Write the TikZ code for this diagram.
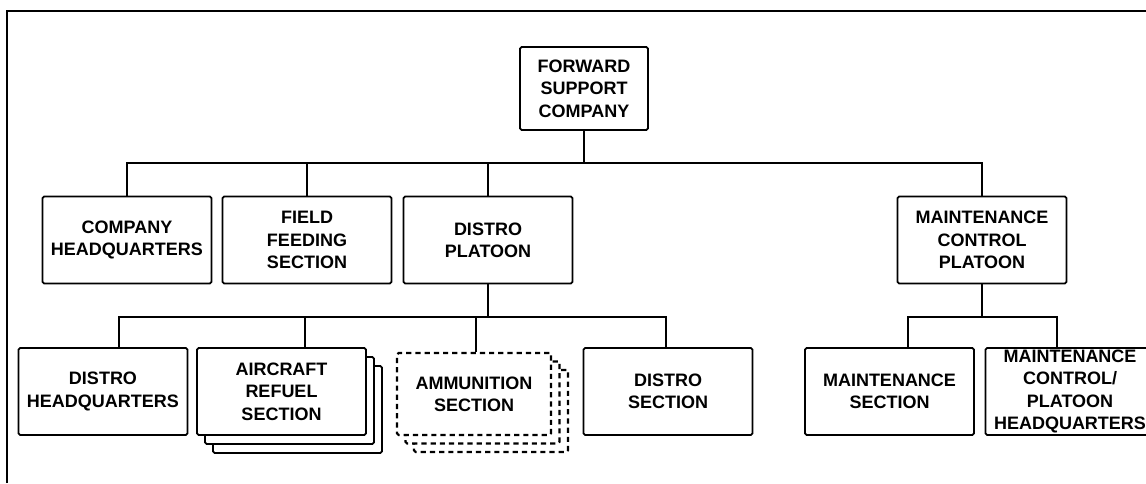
\documentclass[tikz,border=0pt]{standalone}
\usepackage{fontspec}
\setmainfont{Liberation Sans}
\tikzset{
	unit/.style={draw, fill=white, line width=0.9pt, rounded corners=0.8pt, align=center, inner sep=0pt, minimum width=84.5pt, minimum height=43.5pt, font=\bfseries\fontsize{9}{11.2}\selectfont},
	link/.style={line width=0.9pt},
	ghost/.style={line width=1.1pt, dash pattern=on 2.6pt off 2pt, minimum width=77pt, minimum height=41pt}
}
\begin{document}
\begin{tikzpicture}[x=0.5pt, y=-0.5pt]
	\useasboundingbox (0,0) rectangle (1146,483);
	\clip (0,0) rectangle (1146,483);
	\draw[line width=0.9pt] (7,483)--(7,11)--(1146,11);
	
	\node[unit, minimum width=64pt, minimum height=41.5pt] (fsc) at (584,88.5) {FORWARD\\SUPPORT\\COMPANY};
	
	\node[unit] (chq) at (127,240) {COMPANY\\HEADQUARTERS};
	\node[unit] (ffs) at (307,240) {FIELD\\FEEDING\\SECTION};
	\node[unit] (dp) at (488,240) {DISTRO\\PLATOON};
	\node[unit] (mcp) at (982,240) {MAINTENANCE\\CONTROL\\PLATOON};
	
	\node[unit] (dhq) at (103,391.5) {DISTRO\\HEADQUARTERS};
	\node[unit] (ars3) at (297.5,409.5) {};
	\node[unit] (ars2) at (289.5,400.5) {};
	\node[unit] (ars) at (281.5,391.5) {AIRCRAFT\\REFUEL\\SECTION};
	\node[unit, ghost] (ammo3) at (491,411) {};
	\node[unit, ghost] (ammo2) at (482.5,402.5) {};
	\node[unit, ghost] (ammo) at (474,394) {AMMUNITION\\SECTION};
	\node[unit] (ds) at (668,391.5) {DISTRO\\SECTION};
	
	\node[unit] (ms) at (889.5,391.5) {MAINTENANCE\\SECTION};
	\node[unit] (mchq) at (1070,391.5) {MAINTENANCE\\CONTROL/\\PLATOON\\HEADQUARTERS};
	
	\coordinate (fscjoin) at (584,163);
	\coordinate (dpjoin) at (488,317);
	\coordinate (mcpjoin) at (982,317);
	
	\draw[link] (fsc.south) -- (fscjoin);
	\draw[link] (chq.north) |- (fscjoin);
	\draw[link] (ffs.north) |- (fscjoin);
	\draw[link] (dp.north) |- (fscjoin);
	\draw[link] (mcp.north) |- (fscjoin);
	
	\draw[link] (dp.south) -- (dpjoin);
	\draw[link] ([xshift=8pt]dhq.north) |- (dpjoin);
	\draw[link] ([xshift=11.75pt]ars.north) |- (dpjoin);
	\draw[link] ([xshift=1pt]ammo.north) |- (dpjoin);
	\draw[link] ([xshift=-1pt]ds.north) |- (dpjoin);
	
	\draw[link] (mcp.south) -- (mcpjoin);
	\draw[link] ([xshift=9.25pt]ms.north) |- (mcpjoin);
	\draw[link] ([xshift=-6.5pt]mchq.north) |- (mcpjoin);
\end{tikzpicture}
\end{document}
